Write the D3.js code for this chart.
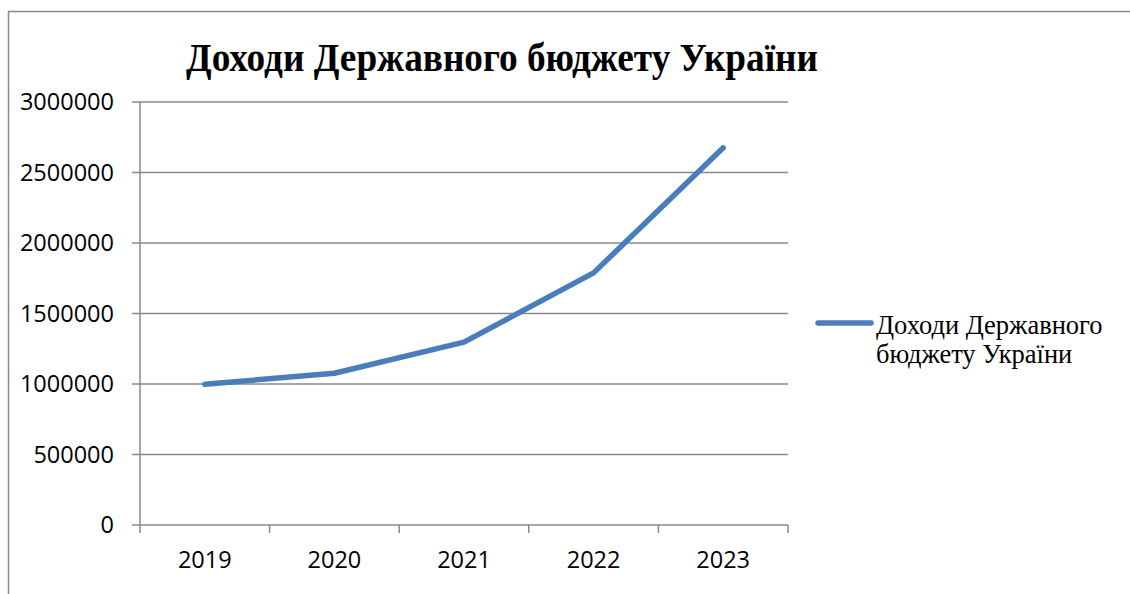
<!DOCTYPE html>
<html>
<head>
<meta charset="utf-8">
<script src="https://cdn.jsdelivr.net/npm/d3@7"></script>
<style>
  body { margin: 0; background: #fff; }
  #chart { width: 1130px; height: 594px; }
</style>
</head>
<body>
<div id="chart"></div>
<script>
const years = ["2019", "2020", "2021", "2022", "2023"];
const revenues = [998000, 1076000, 1297000, 1788000, 2675000];
const yTicks = [0, 500000, 1000000, 1500000, 2000000, 2500000, 3000000];
const chartTitle = "Доходи Державного бюджету України";
const legendLines = ["Доходи Державного", "бюджету України"];

function renderChart() {
  const width = 1130, height = 594;
  const margin = { top: 102, right: 342, bottom: 69, left: 140 };
  const lineColor = "#4a7ebb";
  const gridColor = "#898989";

  const svg = d3.select("#chart").append("svg")
    .attr("width", width)
    .attr("height", height);

  // outer chart frame (only top and left edges are visible in the picture)
  svg.append("path")
    .attr("d", `M8.5,${height} V11.5 H${width}`)
    .attr("fill", "none")
    .attr("stroke", gridColor)
    .attr("stroke-width", 1.5);

  const x = d3.scaleBand()
    .domain(years)
    .range([margin.left, width - margin.right]);

  const y = d3.scaleLinear()
    .domain([0, 3000000])
    .range([height - margin.bottom, margin.top]);

  // horizontal gridlines + y ticks
  svg.append("g")
    .selectAll("line")
    .data(yTicks)
    .join("line")
    .attr("x1", margin.left - 8)
    .attr("x2", width - margin.right)
    .attr("y1", d => y(d))
    .attr("y2", d => y(d))
    .attr("stroke", gridColor)
    .attr("stroke-width", 1.5);

  svg.append("g")
    .selectAll("text")
    .data(yTicks)
    .join("text")
    .attr("x", margin.left - 26)
    .attr("y", d => y(d))
    .attr("dy", "0.35em")
    .attr("text-anchor", "end")
    .attr("font-family", "'Open Sans', sans-serif")
    .attr("font-size", 23.5)
    .attr("fill", "#000")
    .text(d => d);

  // y axis line
  svg.append("line")
    .attr("x1", margin.left).attr("x2", margin.left)
    .attr("y1", y(3000000)).attr("y2", y(0))
    .attr("stroke", gridColor)
    .attr("stroke-width", 1.5);

  // x tick marks at category boundaries
  const bounds = years.map(d => x(d)).concat([x(years[years.length - 1]) + x.bandwidth()]);
  svg.append("g")
    .selectAll("line")
    .data(bounds)
    .join("line")
    .attr("x1", d => d).attr("x2", d => d)
    .attr("y1", y(0)).attr("y2", y(0) + 8)
    .attr("stroke", gridColor)
    .attr("stroke-width", 1.5);

  svg.append("g")
    .selectAll("text")
    .data(years)
    .join("text")
    .attr("x", d => x(d) + x.bandwidth() / 2)
    .attr("y", y(0) + 43)
    .attr("text-anchor", "middle")
    .attr("font-family", "'Open Sans', sans-serif")
    .attr("font-size", 23.5)
    .attr("fill", "#000")
    .text(d => d);

  // the series line
  const line = d3.line()
    .x((d, i) => x(years[i]) + x.bandwidth() / 2)
    .y(d => y(d));

  svg.append("path")
    .datum(revenues)
    .attr("d", line)
    .attr("fill", "none")
    .attr("stroke", lineColor)
    .attr("stroke-width", 5.5)
    .attr("stroke-linecap", "round")
    .attr("stroke-linejoin", "round");

  // title (condensed bold serif)
  svg.append("text")
    .attr("x", 186)
    .attr("y", 71)
    .attr("font-family", "'Liberation Serif', 'Times New Roman', serif")
    .attr("font-weight", "bold")
    .attr("font-size", 41)
    .attr("textLength", 632)
    .attr("lengthAdjust", "spacingAndGlyphs")
    .attr("fill", "#000")
    .text(chartTitle);

  // legend
  const legend = svg.append("g");
  legend.append("line")
    .attr("x1", 818).attr("x2", 871)
    .attr("y1", 323).attr("y2", 323)
    .attr("stroke", lineColor)
    .attr("stroke-width", 5.5)
    .attr("stroke-linecap", "round");

  legend.selectAll("text")
    .data(legendLines)
    .join("text")
    .attr("x", 876)
    .attr("y", (d, i) => 334 + i * 29)
    .attr("font-family", "'Liberation Serif', 'Times New Roman', serif")
    .attr("font-size", 26.5)
    .attr("fill", "#000")
    .text(d => d);
}

renderChart();
</script>
</body>
</html>
